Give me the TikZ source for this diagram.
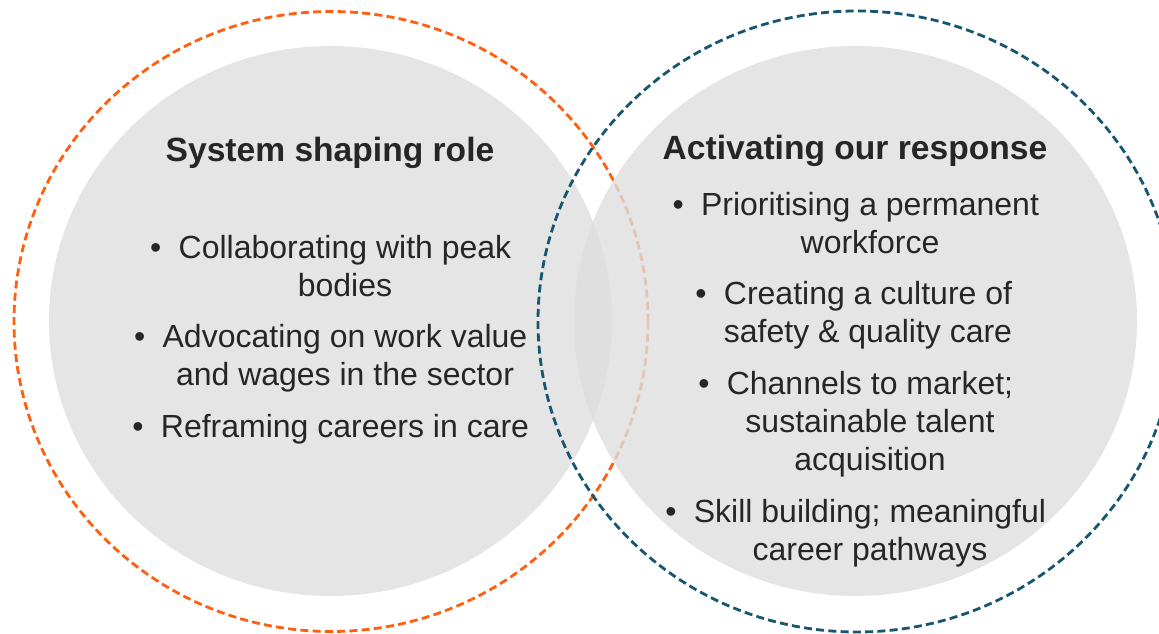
\documentclass[tikz,border=0pt]{standalone}
\usepackage{fontspec}
\setmainfont{Liberation Sans}
\usetikzlibrary{positioning}
\definecolor{ringorange}{RGB}{255,95,15}
\definecolor{ringblue}{RGB}{22,86,110}
\definecolor{discgray}{RGB}{222,222,222}
\definecolor{textdark}{RGB}{38,38,38}
\tikzset{
	disc/.style={fill=discgray, fill opacity=0.8, draw=none},
	ring/.style={line width=2.1pt, dash pattern=on 6pt off 3.2pt},
	heading/.style={font=\fontsize{25.2}{30}\selectfont\bfseries, text=textdark, inner sep=0pt},
	point/.style={font=\fontsize{24}{28.5}\selectfont, text=textdark, align=center, inner sep=0pt}
}
\newcommand{\pointbullet}{\llap{\textbullet\hspace{13pt}}}

\begin{document}
\begin{tikzpicture}[x=0.75pt, y=-0.75pt]
	\useasboundingbox (0,0) rectangle (1159,634);
	
	% centres of the two sets
	\coordinate (leftc) at (330.5,321);
	\coordinate (rightc) at (855.5,321);
	
	% left set
	\fill[disc] (leftc) ellipse [x radius=281.5, y radius=275];
	\draw[ring, color=ringorange] (331,321.5) ellipse [x radius=317, y radius=310];
	
	% right set
	\fill[disc] (rightc) ellipse [x radius=281.5, y radius=275];
	\draw[ring, color=ringblue] (857,321.5) ellipse [x radius=319, y radius=310.5];
	
	% System shaping
	\node[heading] (systitle) at (330,153) {System shaping role};
	\node[point] (sys1) at (345,266) {\pointbullet Collaborating with peak\\bodies};
	\node[point] (sys2) at (345,358) {\pointbullet Advocating on work value\\and wages in the sector};
	\node[point] (sys3) at (345,429) {\pointbullet Reframing careers in care};
	
	% Activating
	\node[heading] (acttitle) at (855,151) {Activating our response};
	\node[point] (act1) at (870,223) {\pointbullet Prioritising a permanent\\workforce};
	\node[point] (act2) at (868,315) {\pointbullet Creating a culture of\\safety \& quality care};
	\node[point] (act3) at (870,424) {\pointbullet Channels to market;\\sustainable talent\\acquisition};
	\node[point] (act4) at (870,533) {\pointbullet Skill building; meaningful\\career pathways};
\end{tikzpicture}
\end{document}
